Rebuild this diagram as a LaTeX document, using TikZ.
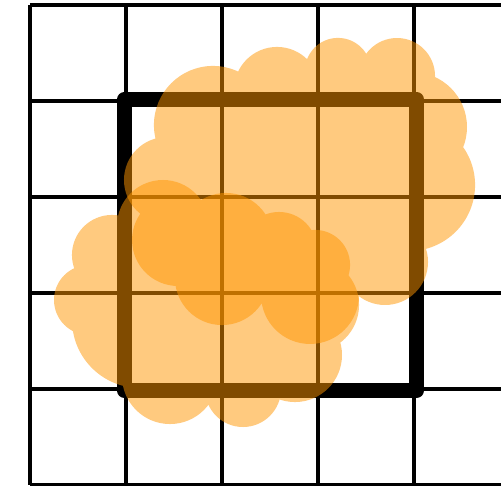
\documentclass[tikz,border=0pt]{standalone}
\definecolor{puff}{RGB}{255,150,0}
\begin{document}
\begin{tikzpicture}[x=1cm,y=1cm]
\clip (-0.3125,-0.0104) rectangle (4.906,5.052);
\fill[white] (-0.3125,-0.0104) rectangle (4.906,5.052);
\draw[line width=0.9pt] (0,0) grid (5,5);
\draw[line width=4.5pt, line join=round] (0.984,0.984) rectangle (4.026,4.016);
\fill[puff, fill opacity=0.5] (1.906,3.75) circle (0.615) (1.427,3.177) circle (0.448) (2.573,4.115) circle (0.448) (3.208,4.313) circle (0.344) (3.823,4.26) circle (0.396) (3.979,3.729) circle (0.573) (3.948,3.125) circle (0.688) (3.698,2.323) circle (0.448) (2.917,1.979) circle (0.51) (2.0,2.156) circle (0.49) (1.542,2.552) circle (0.479) (2.8125,3.177) circle (1.146) (2.083,2.76) circle (0.625);
\fill[puff, fill opacity=0.5] (1.385,2.698) circle (0.479) (2.042,2.552) circle (0.49) (2.594,2.448) circle (0.396) (2.969,2.292) circle (0.365) (2.9375,1.875) circle (0.49) (2.76,1.354) circle (0.49) (2.219,1.0) circle (0.396) (1.458,1.135) circle (0.5) (1.146,1.719) circle (0.708) (0.615,1.927) circle (0.365) (0.854,2.396) circle (0.417) (1.979,1.823) circle (0.833);
\end{tikzpicture}
\end{document}
